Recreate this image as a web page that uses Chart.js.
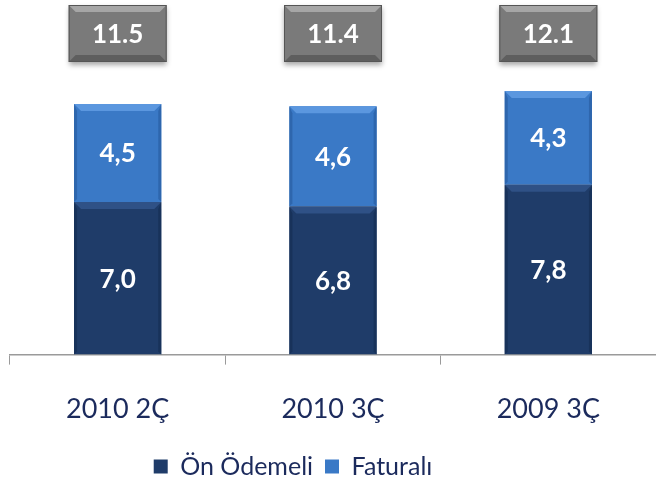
<!DOCTYPE html>
<html>
<head>
<meta charset="utf-8">
<script src="https://cdn.jsdelivr.net/npm/chart.js@4/dist/chart.umd.min.js"></script>
<style>
  html, body { margin: 0; padding: 0; background: #fff; }
  #wrap { width: 656px; height: 481px; }
</style>
</head>
<body>
<div id="wrap"><canvas id="c"></canvas></div>
<script>
const categories = ['2010 2Ç', '2010 3Ç', '2009 3Ç'];
const onOdemeli = [7.0, 6.8, 7.8];
const faturali = [4.5, 4.6, 4.3];
const totals = [11.5, 11.4, 12.1];

const NAVY_TEXT = '#1b2a5c';
const FONT = 'Lato, "Open Sans", sans-serif';

function fmt(v) {
    return v.toFixed(1).replace('.', ',');
}

// bevel look + value label on each bar segment
const bevelPlugin = {
    id: 'bevel',
    afterDatasetsDraw(chart) {
        const ctx = chart.ctx;
        chart.data.datasets.forEach((ds, i) => {
            const meta = chart.getDatasetMeta(i);
            meta.data.forEach((bar, j) => {
                const left = bar.x - bar.width / 2;
                const right = bar.x + bar.width / 2;
                const top = Math.min(bar.y, bar.base);
                const bottom = Math.max(bar.y, bar.base);
                const b = 7;
                ctx.save();
                ctx.fillStyle = ds.bevelTop;
                ctx.beginPath();
                ctx.moveTo(left, top);
                ctx.lineTo(right, top);
                ctx.lineTo(right - b, top + b);
                ctx.lineTo(left + b, top + b);
                ctx.closePath();
                ctx.fill();
                ctx.fillStyle = ds.bevelSide;
                ctx.beginPath();
                ctx.moveTo(left, top);
                ctx.lineTo(left + 3, top + b);
                ctx.lineTo(left + 3, bottom - 3);
                ctx.lineTo(left, bottom);
                ctx.closePath();
                ctx.fill();
                ctx.beginPath();
                ctx.moveTo(right, top);
                ctx.lineTo(right - 3, top + b);
                ctx.lineTo(right - 3, bottom - 3);
                ctx.lineTo(right, bottom);
                ctx.closePath();
                ctx.fill();
                ctx.fillStyle = '#ffffff';
                ctx.font = 'bold 26px ' + FONT;
                ctx.textAlign = 'center';
                ctx.textBaseline = 'middle';
                ctx.fillText(fmt(ds.data[j]), bar.x, (top + bottom) / 2 + 1);
                ctx.restore();
            });
        });
    }
};

// grey total boxes above the bars
const totalsPlugin = {
    id: 'totals',
    afterDraw(chart) {
        const ctx = chart.ctx;
        const xs = chart.scales.x;
        totals.forEach((t, i) => {
            const cx = xs.getPixelForValue(i);
            const w = 98, h = 57, top = 5;
            const left = cx - w / 2;
            ctx.save();
            ctx.shadowColor = 'rgba(0,0,0,0.35)';
            ctx.shadowBlur = 5;
            ctx.shadowOffsetY = 3;
            ctx.fillStyle = '#7a7a7a';
            ctx.fillRect(left, top, w, h);
            ctx.restore();
            ctx.save();
            const b = 7;
            ctx.fillStyle = '#a6a6a6';
            ctx.beginPath();
            ctx.moveTo(left, top);
            ctx.lineTo(left + w, top);
            ctx.lineTo(left + w - b, top + b);
            ctx.lineTo(left + b, top + b);
            ctx.closePath();
            ctx.fill();
            ctx.fillStyle = '#5e5e5e';
            ctx.beginPath();
            ctx.moveTo(left, top + h);
            ctx.lineTo(left + w, top + h);
            ctx.lineTo(left + w - b, top + h - b);
            ctx.lineTo(left + b, top + h - b);
            ctx.closePath();
            ctx.fill();
            ctx.strokeStyle = '#555';
            ctx.lineWidth = 1;
            ctx.strokeRect(left + 0.5, top + 0.5, w - 1, h - 1);
            ctx.fillStyle = '#ffffff';
            ctx.font = 'bold 26px ' + FONT;
            ctx.textAlign = 'center';
            ctx.textBaseline = 'middle';
            ctx.fillText(t.toFixed(1), cx, top + h / 2 + 1);
            ctx.restore();
        });
    }
};

// legend sits a bit left of centre in the original
const legendShift = {
    id: 'legendShift',
    afterLayout(chart) {
        chart.legend.left -= 40;
        chart.legend.right -= 40;
    }
};

new Chart(document.getElementById('c'), {
    type: 'bar',
    data: {
        labels: categories,
        datasets: [
            {
                label: 'Ön Ödemeli',
                data: onOdemeli,
                backgroundColor: '#1f3c69',
                bevelTop: '#2f5186',
                bevelSide: '#18325a'
            },
            {
                label: 'Faturalı',
                data: faturali,
                backgroundColor: '#3a79c6',
                bevelTop: '#5b97df',
                bevelSide: '#2e66ad'
            }
        ]
    },
    options: {
        responsive: true,
        maintainAspectRatio: false,
        animation: false,
        datasets: {
            bar: { categoryPercentage: 1.0, barPercentage: 0.405 }
        },
        layout: { padding: { top: 6, left: 10, right: 0, bottom: -8 } },
        plugins: {
            legend: {
                position: 'bottom',
                labels: {
                    color: NAVY_TEXT,
                    boxWidth: 14,
                    boxHeight: 14,
                    padding: 12,
                    font: { family: FONT, size: 25 }
                }
            },
            tooltip: { enabled: false }
        },
        scales: {
            x: {
                stacked: true,
                grid: {
                    display: true,
                    drawOnChartArea: false,
                    drawTicks: true,
                    tickLength: 10,
                    color: '#9a9a9a'
                },
                border: { display: true, color: '#9a9a9a', width: 1.5 },
                ticks: {
                    color: NAVY_TEXT,
                    padding: 28,
                    font: { family: FONT, size: 27 }
                },
                afterFit(scale) {
                    scale.height -= 11;
                }
            },
            y: {
                stacked: true,
                display: false,
                min: 0,
                max: 16
            }
        }
    },
    plugins: [bevelPlugin, totalsPlugin, legendShift]
});
</script>
</body>
</html>
